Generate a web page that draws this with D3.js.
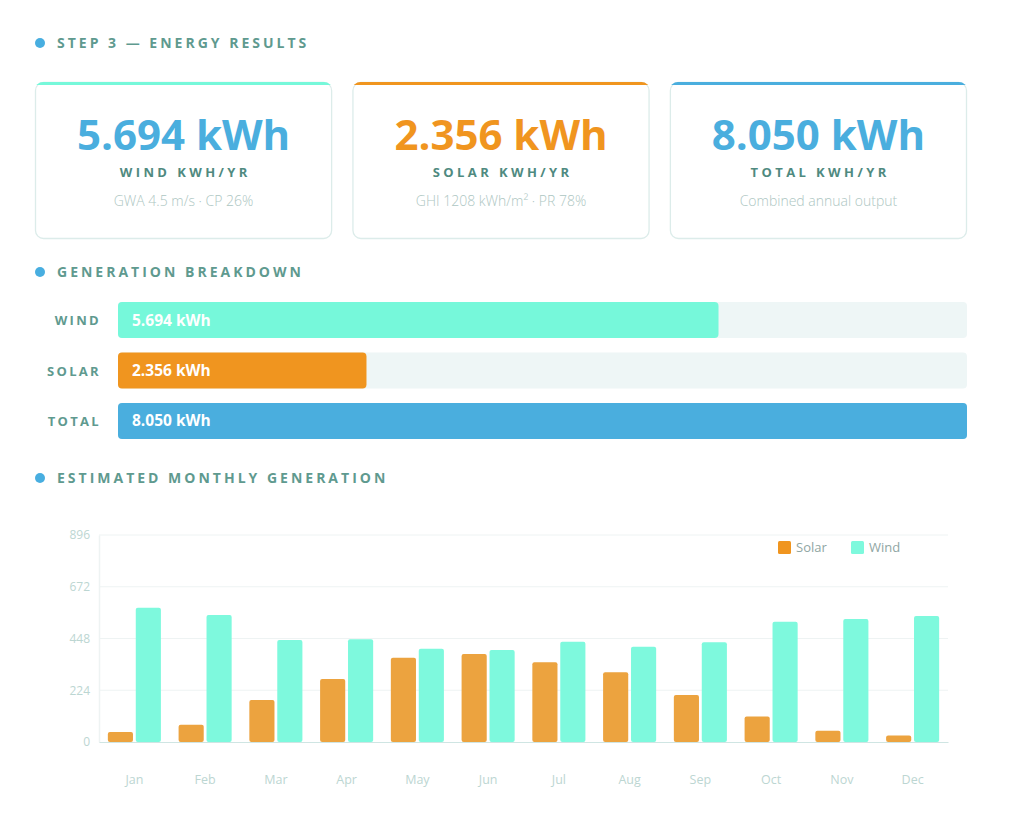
<!DOCTYPE html>
<html>
<head>
<meta charset="utf-8">
<script src="https://cdn.jsdelivr.net/npm/d3@7/dist/d3.min.js"></script>
<style>
  html, body { margin: 0; padding: 0; background: #ffffff; }
  svg { display: block; font-family: "Open Sans", "Noto Sans", sans-serif; }
</style>
</head>
<body>
<svg id="chart" width="1024" height="824"></svg>
<script>
// ---- data ----
const sectionTitles = ["STEP 3 — ENERGY RESULTS", "GENERATION BREAKDOWN", "ESTIMATED MONTHLY GENERATION"];
const cardValues = ["5.694 kWh", "2.356 kWh", "8.050 kWh"];
const cardLabels = ["WIND KWH/YR", "SOLAR KWH/YR", "TOTAL KWH/YR"];
const cardNotes = ["GWA 4.5 m/s · CP 26%", "GHI 1208 kWh/m² · PR 78%", "Combined annual output"];
const breakdownLabels = ["WIND", "SOLAR", "TOTAL"];
const breakdownValues = [5694, 2356, 8050];
const breakdownText = ["5.694 kWh", "2.356 kWh", "8.050 kWh"];
const months = ["Jan","Feb","Mar","Apr","May","Jun","Jul","Aug","Sep","Oct","Nov","Dec"];
const seriesNames = ["Solar", "Wind"];
const solarMonthly = [43, 75, 182, 273, 365, 381, 345, 302, 203, 110, 49, 28];
const windMonthly = [581, 550, 441, 445, 404, 398, 434, 412, 432, 520, 532, 545];
const yTicks = [0, 224, 448, 672, 896];

// ---- styles ----
const C = {
  dot: "#48aee0",
  head: "#5f9a8f",
  label: "#4f8a80",
  note: "#adc6c2",
  border: "#dcecea",
  wind: "#76f8da",
  windChart: "#7ef9dd",
  solar: "#f0951f",
  solarChart: "#eca33f",
  total: "#4aaede",
  track: "#eef6f6",
  grid: "#eef3f3",
  axis: "#cfe5e3",
  tick: "#bcd6d2"
};
const cardTop = [C.wind, C.solar, C.total];
const cardNum = [C.total, C.solar, C.total];
const breakdownColors = [C.wind, C.solar, C.total];

const svg = d3.select("#chart");
svg.append("rect").attr("width", 1024).attr("height", 824).attr("fill", "#fff");

// section headers
const headY = [43, 272, 478];
sectionTitles.forEach((t, i) => {
  svg.append("circle").attr("cx", 40).attr("cy", headY[i]).attr("r", 5).attr("fill", C.dot);
  svg.append("text").attr("x", 57).attr("y", headY[i] + 5)
    .attr("font-size", 14).attr("font-weight", 700).attr("letter-spacing", 3)
    .attr("fill", C.head).text(t);
});

// cards
const cardX = d3.scaleBand().domain(d3.range(3)).range([35, 967]).paddingInner(0.064);
cardValues.forEach((v, i) => {
  const x = cardX(i), w = cardX.bandwidth(), y = 82, h = 157;
  const g = svg.append("g");
  g.append("clipPath").attr("id", "cc" + i).append("rect")
    .attr("x", x).attr("y", y).attr("width", w).attr("height", h).attr("rx", 8);
  g.append("rect").attr("x", x + 0.5).attr("y", y + 0.5).attr("width", w - 1).attr("height", h - 1)
    .attr("rx", 8).attr("fill", "#fff").attr("stroke", C.border).attr("stroke-width", 1.3);
  g.append("rect").attr("clip-path", `url(#cc${i})`).attr("x", x).attr("y", y)
    .attr("width", w).attr("height", 3).attr("fill", cardTop[i]);
  const cx = x + w / 2;
  g.append("text").attr("x", cx).attr("y", 150).attr("text-anchor", "middle")
    .attr("font-size", 42).attr("font-weight", 700).attr("fill", cardNum[i]).text(v);
  g.append("text").attr("x", cx + 1.7).attr("y", 177).attr("text-anchor", "middle")
    .attr("font-size", 13).attr("font-weight", 700).attr("letter-spacing", 3.4)
    .attr("fill", C.label).text(cardLabels[i]);
  g.append("text").attr("x", cx).attr("y", 206).attr("text-anchor", "middle")
    .attr("font-size", 14).attr("font-weight", 300).attr("fill", C.note).text(cardNotes[i]);
});

// breakdown bars
const bx = d3.scaleLinear().domain([0, d3.max(breakdownValues)]).range([118, 967]);
const by = d3.scaleBand().domain(breakdownLabels).range([302, 439]).paddingInner(0.287);
breakdownLabels.forEach((lab, i) => {
  const y = by(lab), h = by.bandwidth();
  svg.append("rect").attr("x", bx(0)).attr("y", y).attr("width", bx.range()[1] - bx(0))
    .attr("height", h).attr("rx", 4).attr("fill", C.track);
  svg.append("rect").attr("x", bx(0)).attr("y", y).attr("width", bx(breakdownValues[i]) - bx(0))
    .attr("height", h).attr("rx", 4).attr("fill", breakdownColors[i]);
  svg.append("text").attr("x", 101).attr("y", y + h / 2 + 5).attr("text-anchor", "end")
    .attr("font-size", 13).attr("font-weight", 700).attr("letter-spacing", 2.3)
    .attr("fill", C.head).text(lab);
  svg.append("text").attr("x", 132).attr("y", y + h / 2 + 5.5)
    .attr("font-size", 15.5).attr("font-weight", 700).attr("fill", "#fff").text(breakdownText[i]);
});

// monthly chart
const x0 = d3.scaleBand().domain(months).range([99, 948]).paddingInner(0.25).paddingOuter(0.125);
const x1 = d3.scaleBand().domain(seriesNames).range([0, x0.bandwidth()]).paddingInner(0.1);
const y = d3.scaleLinear().domain([0, 896]).range([742, 535]);

const gridG = svg.append("g");
yTicks.forEach(t => {
  if (t === 0) return;
  gridG.append("line").attr("x1", 99).attr("x2", 948).attr("y1", y(t)).attr("y2", y(t))
    .attr("stroke", C.grid).attr("stroke-width", 1);
});

const yAxis = svg.append("g").attr("transform", "translate(99,0)")
  .call(d3.axisLeft(y).tickValues(yTicks).tickSize(0).tickPadding(9));
yAxis.select(".domain").attr("stroke", C.grid).attr("stroke-width", 1.5);
yAxis.selectAll("text").attr("font-size", 12).attr("fill", C.tick)
  .attr("font-family", "'Open Sans', sans-serif");

const series = [solarMonthly, windMonthly];
const colors = [C.solarChart, C.windChart];
months.forEach((m, mi) => {
  seriesNames.forEach((s, si) => {
    const v = series[si][mi];
    svg.append("rect").attr("x", x0(m) + x1(s)).attr("y", y(v))
      .attr("width", x1.bandwidth()).attr("height", y(0) - y(v))
      .attr("rx", 2).attr("fill", colors[si]);
  });
});

const xAxis = svg.append("g").attr("transform", `translate(0,${y(0)})`)
  .call(d3.axisBottom(x0).tickSize(0).tickPadding(33));
xAxis.select(".domain").attr("stroke", C.axis).attr("stroke-width", 1.2);
xAxis.selectAll("text").attr("font-size", 12.5).attr("fill", C.tick)
  .attr("font-family", "'Open Sans', sans-serif");

// legend
const legX = [778, 851];
seriesNames.forEach((s, i) => {
  svg.append("rect").attr("x", legX[i]).attr("y", 541).attr("width", 13).attr("height", 13)
    .attr("rx", 1.5).attr("fill", i === 0 ? C.solar : C.windChart);
  svg.append("text").attr("x", legX[i] + 18).attr("y", 552)
    .attr("font-size", 13).attr("fill", "#8fa6a3").text(s);
});
</script>
</body>
</html>
